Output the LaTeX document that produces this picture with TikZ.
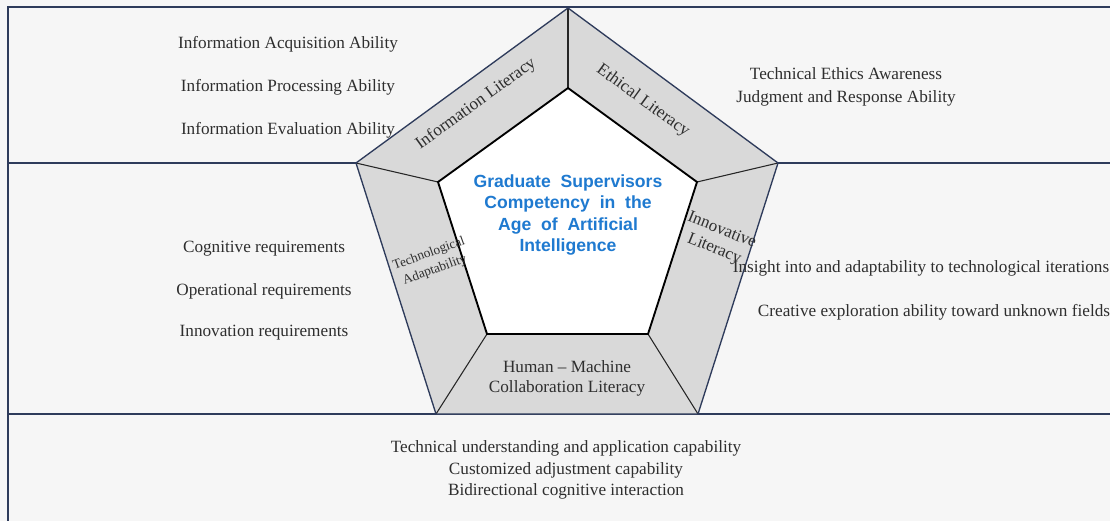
\documentclass[tikz,border=0pt]{standalone}
\usepackage{fontspec}
\setmainfont{Liberation Serif}
\setsansfont{Liberation Sans}

\definecolor{framecol}{HTML}{2E3B5B}
\definecolor{ringgray}{HTML}{D9D9D9}
\definecolor{titleblue}{HTML}{1F7AD0}
\definecolor{paper}{HTML}{F6F6F6}

\begin{document}
\begin{tikzpicture}[x=0.75pt,y=-0.75pt,font=\fontsize{12.9}{16}\selectfont,
  item/.style={inner sep=0pt,text=black!82},
  ringlabel/.style={inner sep=0pt,align=center,text=black!82}]
\useasboundingbox (0,0) rectangle (1110,521);
\fill[paper] (0,0) rectangle (1110,521);
% frame and the two band separators
\draw[framecol,line width=1.1pt] (1110,7) -- (8,7) -- (8,521);
\draw[framecol,line width=1.1pt] (8,163) -- (1110,163) (8,414) -- (1110,414);

% pentagon: outer corners o1..o5, inner corners i1..i5
\coordinate (o1) at (568,8);
\coordinate (o2) at (778,163);
\coordinate (o3) at (698,414);
\coordinate (o4) at (436,414);
\coordinate (o5) at (356,163);
\coordinate (i1) at (568,88);
\coordinate (i2) at (697,182);
\coordinate (i3) at (648,334);
\coordinate (i4) at (487,334);
\coordinate (i5) at (438,182);
\fill[ringgray] (o1)--(o2)--(o3)--(o4)--(o5)--cycle;
\fill[white] (i1)--(i2)--(i3)--(i4)--(i5)--cycle;
\foreach \k in {1,...,5}
  \draw[black!85,line width=.8pt] (o\k) -- (i\k);
\draw[framecol,line width=1pt] (o1)--(o2)--(o3)--(o4)--(o5)--cycle;
\draw[black,line width=1.4pt] (i1)--(i2)--(i3)--(i4)--(i5)--cycle;

% centre title
\node[font=\sffamily\bfseries\fontsize{13.2}{16}\selectfont,text=titleblue,align=center,inner sep=0pt]
  (title) at (568,215) {Graduate~~Supervisors\\Competency~~in~~the\\Age~~of~~Artificial\\Intelligence};

% ring labels
\node[ringlabel,rotate=36] (infolit) at (476,104) {Information Literacy};
\node[ringlabel,rotate=-36] (ethlit) at (643,101) {Ethical Literacy};
\node[ringlabel,rotate=20,font=\fontsize{10}{13}\selectfont] (techad) at (432,262) {Technological\\Adaptability};
\node[ringlabel,rotate=-22,font=\fontsize{12.7}{15}\selectfont] (innolit) at (718,240) {Innovative\\Literacy};
\node[ringlabel,font=\fontsize{12.9}{15}\selectfont] (hmc) at (567,378) {Human -- Machine\\Collaboration Literacy};

% abilities in the bands
\foreach \y/\txt [count=\n] in {44/Information Acquisition Ability,
  87/Information Processing Ability, 130/Information Evaluation Ability}
  \node[item] (info\n) at (288,\y) {\txt};
\node[item,align=center,font=\fontsize{12.9}{17}\selectfont] (ethics) at (846,87)
  {Technical Ethics Awareness\\Judgment and Response Ability};
\foreach \y/\txt [count=\n] in {249/Cognitive requirements,
  291/Operational requirements, 333/Innovation requirements}
  \node[item] (req\n) at (264,\y) {\txt};
\node[item] (innov1) at (921,268) {Insight into and adaptability to technological iterations};
\node[item] (innov2) at (934,312) {Creative exploration ability toward unknown fields};
\node[item,align=center] (collab) at (566,470)
  {Technical understanding and application capability\\Customized adjustment capability\\Bidirectional cognitive interaction};
\end{tikzpicture}
\end{document}
